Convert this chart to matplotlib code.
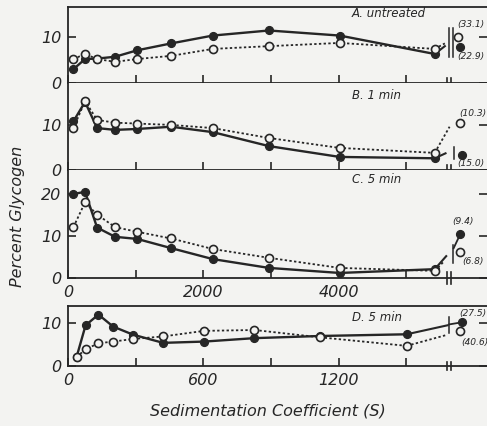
import matplotlib.pyplot as plt

plt.rcParams['font.family'] = 'DejaVu Sans'
plt.rcParams['font.style'] = 'italic'

# sedimentation coefficients (S) of the gradient fractions, panels A-C
sed = [80, 252, 430, 696, 1022, 1526, 2140, 2970, 4015, 5420]
# panel D (expanded scale)
sed_d = [38, 78, 135, 200, 289, 422, 604, 827, 1116, 1502]

# percent glycogen, filled = solid line, open = dotted line
a_fill = [3.0, 5.2, 5.3, 5.7, 7.1, 8.6, 10.3, 11.4, 10.3, 6.3]
a_open = [5.2, 6.3, 5.2, 4.6, 5.2, 5.9, 7.4, 8.0, 8.7, 7.4]
b_fill = [10.8, 15.1, 9.3, 8.9, 9.1, 9.6, 8.4, 5.3, 2.9, 2.6]
b_open = [9.3, 15.3, 11.1, 10.5, 10.3, 10.0, 9.3, 7.1, 4.9, 3.8]
c_fill = [20.0, 20.5, 12.0, 9.8, 9.3, 7.1, 4.5, 2.4, 1.2, 2.1]
c_open = [12.1, 18.0, 15.1, 12.1, 11.0, 9.4, 6.9, 4.8, 2.4, 1.7]
d_fill = [2.1, 9.5, 12.0, 9.2, 7.3, 5.4, 5.7, 6.5, 7.0, 7.4]
d_open = [2.1, 3.9, 5.3, 5.7, 6.3, 6.9, 8.2, 8.4, 6.7, 4.7]

# pellet fractions beyond the axis break: (x, y) and their true values
a_pel = {'open': (5770, 10.0, '(33.1)'), 'fill': (5790, 7.8, '(22.9)')}
b_pel = {'open': (5790, 10.4, '(10.3)'), 'fill': (5830, 3.3, '(15.0)')}
c_pel = {'fill': (5800, 10.5, '(9.4)'), 'open': (5790, 6.2, '(6.8)')}
d_pel = {'fill': (1747, 10.2, '(27.5)'), 'open': (1738, 8.1, '(40.6)')}

bg = '#f3f3f1'
ink = '#262626'
W, H = 487.0, 426.0

fig = plt.figure(figsize=(4.87, 4.26), dpi=100, facecolor=bg)


def add_panel(top, bot):
    ax = fig.add_axes([68 / W, 1 - bot / H, (W - 68) / W, (bot - top) / H])
    ax.set_facecolor(bg)
    for s in ax.spines.values():
        s.set_color(ink)
        s.set_linewidth(1.3)
    ax.spines['right'].set_visible(False)
    ax.tick_params(direction='in', length=6, width=1.2, colors=ink,
                   labelsize=11.5, pad=5, right=True)
    return ax


def draw(ax, x, yf, yo):
    ax.plot(x, yf, '-', color=ink, lw=1.7, marker='o', ms=5.6,
            mfc=ink, mec=ink, clip_on=False, zorder=3)
    ax.plot(x, yo, color=ink, lw=1.3, ls=(0, (1.3, 1.3)), marker='o', ms=5.8,
            mfc=bg, mec=ink, mew=1.2, clip_on=False, zorder=4)


def pellet(ax, p, kind, dx, dy):
    x, y, lab = p[kind]
    if kind == 'fill':
        ax.plot([x], [y], 'o', ms=5.6, color=ink, clip_on=False, zorder=5)
    else:
        ax.plot([x], [y], 'o', ms=5.8, mfc=bg, mec=ink, mew=1.2,
                clip_on=False, zorder=5)
    ax.annotate(lab, (x, y), xytext=(dx, dy), textcoords='offset points',
                fontsize=6.6, color=ink, va='center', ha='left',
                annotation_clip=False)


def breaks(ax, xs, y0, y1, ls='-'):
    for xb in xs:
        ax.plot([xb, xb], [y0, y1], color=ink, lw=1.1, ls=ls, clip_on=False)


def axis_break(ax, xs):
    tr = ax.get_xaxis_transform()
    for xb in xs:
        ax.plot([xb, xb], [-0.06, 0.06], color=ink, lw=1.2, transform=tr,
                clip_on=False)


# --- panels A, B, C share the main scale ---
axA = add_panel(7, 83)
axB = add_panel(83, 170)
axC = add_panel(170, 278)
axD = add_panel(306, 366)

for ax, top in [(axA, 16.5), (axB, 19.3), (axC, 25.7)]:
    ax.set_xlim(0, 6193)
    ax.set_ylim(0, top)
    ax.set_xticks([0, 1000, 2000, 3000, 4000, 5000])
    ax.spines['top'].set_visible(False)
    axis_break(ax, [5600, 5659])
axA.spines['top'].set_visible(True)

axA.set_yticks([0, 10])
axB.set_yticks([0, 10])
axC.set_yticks([0, 10, 20])
axA.set_xticklabels([])
axB.set_xticklabels([])
axC.set_xticklabels(['0', '', '2000', '', '4000', ''])

axD.set_xlim(0, 1858)
axD.set_ylim(0, 14)
axD.set_xticks([0, 300, 600, 900, 1200, 1500])
axD.set_xticklabels(['0', '', '600', '', '1200', ''])
axD.set_yticks([0, 10])
axis_break(axD, [1680, 1698])

draw(axA, sed, a_fill, a_open)
draw(axB, sed, b_fill, b_open)
draw(axC, sed, c_fill, c_open)
draw(axD, sed_d, d_fill, d_open)

# stubs running into the break
dot = (0, (1.3, 1.3))
axA.plot([sed[-1], 5570], [a_open[-1], 8.6], color=ink, lw=1.3, ls=dot)
axA.plot([sed[-1], 5570], [a_fill[-1], 8.0], color=ink, lw=1.5)
breaks(axA, [5630, 5690], 5.7, 12.0)

axB.plot([sed[-1], 5640], [b_open[-1], 9.6], color=ink, lw=1.3, ls=dot)
axB.plot([sed[-1], 5580], [b_fill[-1], 3.7], color=ink, lw=1.5)
breaks(axB, [5700], 2.5, 5.0)

axC.plot([sed[-1], 5590], [c_fill[-1], 5.2], color=ink, lw=1.5)
axC.plot([sed[-1], 5560], [c_open[-1], 4.0], color=ink, lw=1.3, ls=dot)
breaks(axC, [5690], 3.6, 7.9)
axC.plot([5700, c_pel['fill'][0]], [7.1, c_pel['fill'][1]], color=ink, lw=1.3)

axD.plot([sed_d[-1], 1683], [d_fill[-1], 9.5], color=ink, lw=1.5)
axD.plot([sed_d[-1], 1676], [d_open[-1], 7.2], color=ink, lw=1.3, ls=dot)
breaks(axD, [1688], 7.6, 11.4)
axD.plot([1690, d_pel['fill'][0]], [9.7, d_pel['fill'][1]], color=ink, lw=1.3)

pellet(axA, a_pel, 'open', -1, 9)
pellet(axA, a_pel, 'fill', -2, -7)
pellet(axB, b_pel, 'open', 0, 7)
pellet(axB, b_pel, 'fill', -4, -6)
pellet(axC, c_pel, 'fill', -6, 9)
pellet(axC, c_pel, 'open', 2, -7)
pellet(axD, d_pel, 'fill', -2, 6)
pellet(axD, d_pel, 'open', 1, -8)

# panel titles
for ax, t, yy in [(axA, 'A. untreated', 15.0), (axB, 'B. 1 min', 16.5),
                  (axC, 'C. 5 min', 23.5), (axD, 'D. 5 min', 11.4)]:
    xs = (352 - 68) / (W - 68) * ax.get_xlim()[1]
    ax.text(xs, yy, t, fontsize=8.5, color=ink, ha='left', va='center')

fig.text(18 / W, 1 - 216 / H, 'Percent Glycogen', rotation=90, fontsize=11.5,
         color=ink, ha='center', va='center')
fig.text(268 / W, 1 - 411 / H, 'Sedimentation Coefficient (S)', fontsize=11.5,
         color=ink, ha='center', va='center')

fig.savefig('out.png', dpi=100, facecolor=bg)
